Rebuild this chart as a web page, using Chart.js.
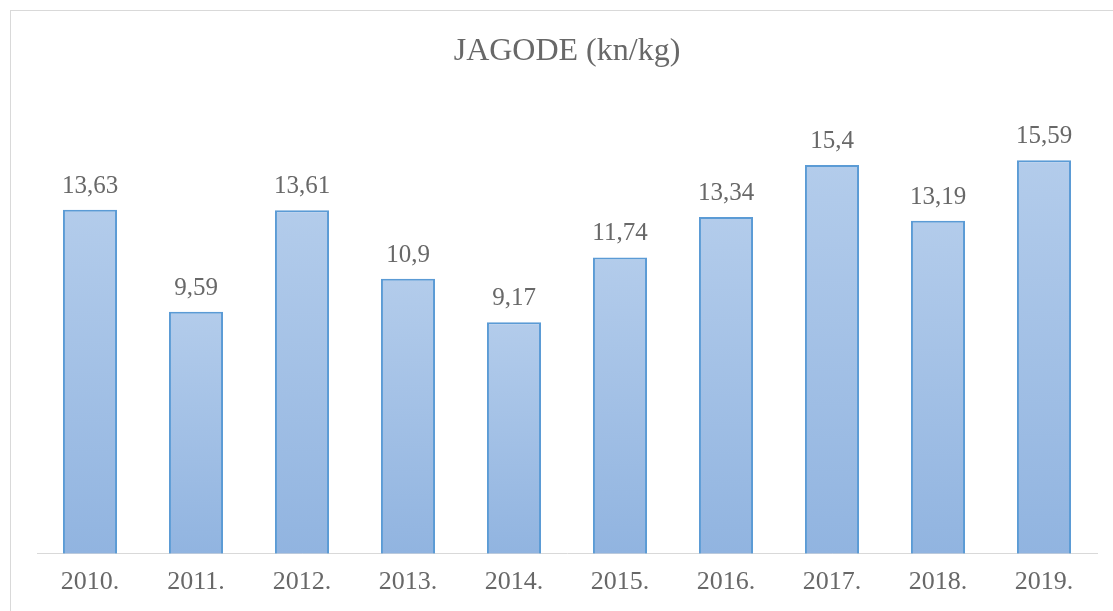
<!DOCTYPE html>
<html>
<head>
<meta charset="utf-8">
<script src="https://cdn.jsdelivr.net/npm/chart.js@4/dist/chart.umd.min.js"></script>
<style>
  html, body { margin: 0; padding: 0; background: #fff; overflow: hidden; }
  #frame { position: absolute; left: 10px; top: 10px; width: 1102px; height: 600px; border: 1px solid #d9d9d9; }
</style>
</head>
<body>
<div id="frame"><canvas id="chartId" width="1102" height="600"></canvas></div>
<script>
var years = ["2010.", "2011.", "2012.", "2013.", "2014.", "2015.", "2016.", "2017.", "2018.", "2019."];
var prices = [13.63, 9.59, 13.61, 10.9, 9.17, 11.74, 13.34, 15.4, 13.19, 15.59];
var chartTitle = "JAGODE (kn/kg)";

var textColor = "#686868";
var fontName = "'Liberation Serif', 'Times New Roman', serif";

// per-bar gradient, light at top, darker at the base
function barFill(ctx) {
    var chart = ctx.chart;
    if (!chart.chartArea || ctx.raw === undefined) return "#a7c3e6";
    var y = chart.scales.y;
    var top = y.getPixelForValue(ctx.raw);
    var bottom = y.getPixelForValue(0);
    var g = chart.ctx.createLinearGradient(0, top, 0, bottom);
    g.addColorStop(0, "#b3cceb");
    g.addColorStop(1, "#91b4e0");
    return g;
}

// value labels above the bars, decimal comma
var valueLabels = {
    id: "valueLabels",
    afterDatasetsDraw: function (chart) {
        var c = chart.ctx;
        var meta = chart.getDatasetMeta(0);
        c.save();
        c.font = "25px " + fontName;
        c.fillStyle = textColor;
        c.textAlign = "center";
        c.textBaseline = "alphabetic";
        meta.data.forEach(function (bar, i) {
            c.fillText(String(prices[i]).replace(".", ","), bar.x, bar.y - 17);
        });
        c.restore();
    }
};

var chrt = document.getElementById("chartId").getContext("2d");
var chartId = new Chart(chrt, {
    type: 'bar',
    data: {
        labels: years,
        datasets: [{
            label: chartTitle,
            data: prices,
            backgroundColor: barFill,
            borderColor: "#5b9bd5",
            borderWidth: 2,
            categoryPercentage: 1,
            barPercentage: 0.51,
        }],
    },
    options: {
        responsive: false,
        animation: false,
        devicePixelRatio: 1,
        layout: { padding: { left: 26, right: 16, top: 0, bottom: 0 } },
        plugins: {
            legend: { display: false },
            tooltip: { enabled: false },
            title: {
                display: true,
                text: chartTitle,
                color: textColor,
                font: { family: fontName, size: 32, weight: 'normal' },
                padding: { top: 21, bottom: 29 },
            },
        },
        scales: {
            x: {
                z: 1,
                grid: { display: false, drawTicks: false },
                border: { display: true, color: "#d9d9d9", width: 1 },
                ticks: { color: textColor, padding: 13, font: { family: fontName, size: 26 } },
            },
            y: {
                display: false,
                min: 0,
                max: 18,
            },
        },
    },
    plugins: [valueLabels],
});
</script>
</body>
</html>
